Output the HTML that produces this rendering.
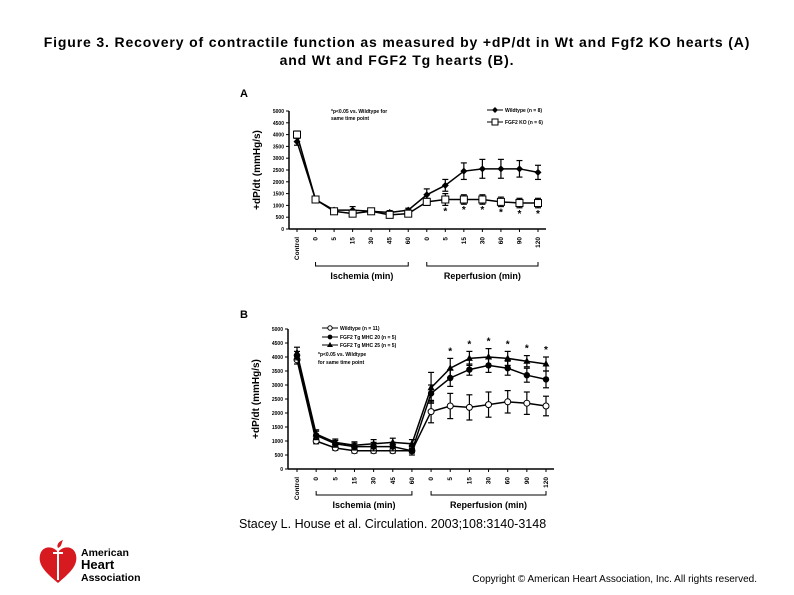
<!DOCTYPE html>
<html><head><meta charset="utf-8"><style>
body{margin:0;width:794px;height:595px;background:#fff;font-family:"Liberation Sans",sans-serif;overflow:hidden;position:relative}
.t{position:absolute;left:0;width:794px;text-align:center;top:33px;font-size:14px;line-height:18px;color:#000;font-weight:bold;letter-spacing:0.85px}
svg{position:absolute;left:0;top:0}
</style></head><body>
<div class="t">Figure 3. Recovery of contractile function as measured by +dP/dt in Wt and Fgf2 KO hearts (A)<br>and Wt and FGF2 Tg hearts (B).</div>
<svg id="s" width="794" height="595" font-family="Liberation Sans, sans-serif"></svg>
<script>
const cats=["Control","0","5","15","30","45","60","0","5","15","30","60","90","120"];
const yTicks=[0,500,1000,1500,2000,2500,3000,3500,4000,4500,5000];
const aWt=[3700,1250,800,800,750,700,800,1450,1850,2450,2550,2550,2550,2400];
const aWtErr=[150,100,80,150,100,80,80,250,250,350,400,400,350,300];
const aKo=[4000,1250,750,650,750,600,650,1150,1250,1250,1250,1150,1100,1100];
const aKoErr=[150,100,100,100,100,80,80,150,250,200,200,200,200,200];
const aStars=[0,0,0,0,0,0,0,0,1,1,1,1,1,1];
const bWt=[3900,1000,750,650,650,650,650,2050,2250,2200,2300,2400,2350,2250];
const bWtErr=[150,100,80,80,80,80,80,400,450,450,450,400,400,350];
const b20=[4050,1200,900,800,800,800,650,2700,3250,3550,3700,3600,3350,3200];
const b20Err=[150,150,120,120,150,150,150,300,300,200,250,250,250,300];
const b25=[4150,1250,950,850,900,950,900,2900,3600,3950,4000,3950,3850,3750];
const b25Err=[200,150,120,120,150,150,150,550,350,250,300,250,200,250];
const bStars=[0,0,0,0,0,0,0,0,1,1,1,1,1,1];
const S=document.getElementById('s');const NS='http://www.w3.org/2000/svg';
function E(t,a,txt,p){const e=document.createElementNS(NS,t);for(const k in a)e.setAttribute(k,a[k]);if(txt!=null)e.textContent=txt;(p||S).appendChild(e);return e;}
function chart(cfg){
 const g=E('g',{});
 
 
 const X=i=>cfg.x0+i*(cfg.x1-cfg.x0)/(cats.length-1);
 const Y=v=>cfg.yb-v*(cfg.yb-cfg.yt)/5000;
 E('line',{x1:cfg.ax,y1:cfg.yt,x2:cfg.ax,y2:cfg.yb,stroke:'#000','stroke-width':1.5},null,g);
 E('line',{x1:cfg.ax,y1:cfg.yb,x2:cfg.x1+8,y2:cfg.yb,stroke:'#000','stroke-width':1.5},null,g);
 yTicks.forEach(v=>{E('line',{x1:cfg.ax-3,y1:Y(v),x2:cfg.ax,y2:Y(v),stroke:'#000'},null,g);
  const t=E('text',{x:cfg.ax-5,y:Y(v)+2,'font-size':5,'text-anchor':'end','font-weight':'bold'},String(v),g);});
 cats.forEach((c,i)=>{const x=X(i);E('line',{x1:x,y1:cfg.yb,x2:x,y2:cfg.yb+3,stroke:'#000'},null,g);
  const t=E('text',{x:x+2,y:cfg.yb+8,'font-size':6.5,'font-weight':'bold','text-anchor':'end',transform:`rotate(-90 ${x+2} ${cfg.yb+8})`},c,g);});
 const yt=E('text',{x:0,y:0,'font-size':10,'font-weight':'bold','text-anchor':'middle',transform:`translate(${cfg.ax-29} ${(cfg.yt+cfg.yb)/2}) rotate(-90)`},'+dP/dt (mmHg/s)',g);
 
 cfg.series.forEach(s=>{
  const sg=E('g',{},null,g);
  s.v.forEach((v,i)=>{const x=X(i);E('line',{x1:x,y1:Y(v-s.e[i]),x2:x,y2:Y(v+s.e[i]),stroke:'#000','stroke-width':1.2},null,sg);
   [v-s.e[i],v+s.e[i]].forEach(w=>E('line',{x1:x-3,y1:Y(w),x2:x+3,y2:Y(w),stroke:'#000','stroke-width':1.2},null,sg));});
  E('polyline',{points:s.v.map((v,i)=>X(i)+','+Y(v)).join(' '),fill:'none',stroke:'#000','stroke-width':1.5},null,sg);
  s.v.forEach((v,i)=>{const x=X(i),y=Y(v);let m;
   if(s.m==='sq')m=E('rect',{x:x-3.5,y:y-3.5,width:7,height:7,fill:'#fff',stroke:'#000'},null,sg);
   else if(s.m==='dia')m=E('polygon',{points:`${x},${y-3.5} ${x+3.5},${y} ${x},${y+3.5} ${x-3.5},${y}`,fill:'#000'},null,sg);
   else if(s.m==='oc')m=E('circle',{cx:x,cy:y,r:3,fill:'#fff',stroke:'#000'},null,sg);
   else if(s.m==='fc')m=E('circle',{cx:x,cy:y,r:3.2,fill:'#000'},null,sg);
   else m=E('polygon',{points:`${x},${y-4} ${x+3.5},${y+2.5} ${x-3.5},${y+2.5}`,fill:'#000'},null,sg);
   });
 });
 cfg.stars.forEach((st,i)=>{if(!st)return;const t=E('text',{x:X(i),y:cfg.starY(i),'font-size':10,'font-weight':'bold','text-anchor':'middle'},'*',g);});
 [[1,6,'Ischemia (min)'],[7,13,'Reperfusion (min)']].forEach(b=>{const y=cfg.br;const xa=X(b[0]),xb=X(b[1]);
  E('polyline',{points:`${xa},${y-4} ${xa},${y} ${xb},${y} ${xb},${y-4}`,fill:'none',stroke:'#000'},null,g);
  const t=E('text',{x:(xa+xb)/2,y:y+13,'font-size':9,'font-weight':'bold','text-anchor':'middle'},b[2],g);});
 return {X,Y,g};
}
const A=chart({name:'chart-a',ax:289,x0:297,x1:538,yt:111,yb:229,br:266,stars:aStars,
 starY:i=>229-(aKo[i]-aKoErr[i])*118/5000+9,
 series:[{name:'series-wildtype',v:aWt,e:aWtErr,m:'dia'},{name:'series-fgf2-ko',v:aKo,e:aKoErr,m:'sq'}]});
const B=chart({name:'chart-b',ax:288,x0:297,x1:546,yt:329,yb:469,br:495,stars:bStars,
 starY:i=>469-(b25[i]+b25Err[i])*140/5000-4,
 series:[{name:'series-wildtype',v:bWt,e:bWtErr,m:'oc'},{name:'series-mhc20',v:b20,e:b20Err,m:'fc'},{name:'series-mhc25',v:b25,e:b25Err,m:'tri'}]});
function txt(x,y,s,sz,w,name,anchor){const t=E('text',{x,y,'font-size':sz,'font-weight':w||'normal','text-anchor':anchor||'start'},s);return t;}
txt(240,97,'A',11,'bold','panel-label-a');txt(240,318,'B',11,'bold','panel-label-b');
txt(331,113,'*p<0.05 vs. Wildtype for',5,'bold','note-a');txt(331,120,'same time point',5,'bold','note-a2');
E('line',{x1:487,y1:110,x2:503,y2:110,stroke:'#000'});E('polygon',{points:'495,107 498,110 495,113 492,110'});
txt(505,112,'Wildtype  (n = 8)',5,'bold','legend-wildtype');
E('line',{x1:487,y1:122,x2:503,y2:122,stroke:'#000'});E('rect',{x:492,y:119,width:6,height:6,fill:'#fff',stroke:'#000'});
txt(505,124,'FGF2 KO  (n = 6)',5,'bold','legend-fgf2-ko');
E('line',{x1:322,y1:328,x2:338,y2:328,stroke:'#000'});E('circle',{cx:330,cy:328,r:2.2,fill:'#fff',stroke:'#000'});
txt(340,330,'Wildtype  (n = 11)',5,'bold','legend-wt-b');
E('line',{x1:322,y1:337,x2:338,y2:337,stroke:'#000'});E('circle',{cx:330,cy:337,r:2.4});
txt(340,339,'FGF2 Tg MHC 20  (n = 5)',5,'bold','legend-mhc20');
E('line',{x1:322,y1:345,x2:338,y2:345,stroke:'#000'});E('polygon',{points:'330,342 333,347 327,347'});
txt(340,347,'FGF2 Tg MHC 25  (n = 5)',5,'bold','legend-mhc25');
txt(318,356,'*p<0.05 vs. Wildtype',5,'bold','note-b');txt(318,364,'for same time point',5,'bold','note-b2');
txt(239,528,'Stacey L. House et al. Circulation. 2003;108:3140-3148',12.5,'normal','citation');
txt(757,582,'Copyright © American Heart Association, Inc. All rights reserved.',10,'normal','copyright','end');
const lg=E('g',{});
E('path',{d:'M58,583 C45,572 38,565 40,555 C42,546 52,545 58,552 C64,545 74,546 76,555 C78,565 71,572 58,583 Z',fill:'#d71920'},null,lg);
E('path',{d:'M57,548 L59,548 L59,580 L57,580 Z M53,552 L63,552 L63,554 L53,554 Z',fill:'#fff'},null,lg);
E('path',{d:'M58,548 C56,544 60,541 63,540 C61,544 62,546 58,548 Z',fill:'#d71920'},null,lg);
txt(81,556,'American',10.5,'bold','logo-text1');txt(81,569,'Heart',13,'bold','logo-text2');txt(81,581,'Association',10.5,'bold','logo-text3');
</script>
</body></html>
